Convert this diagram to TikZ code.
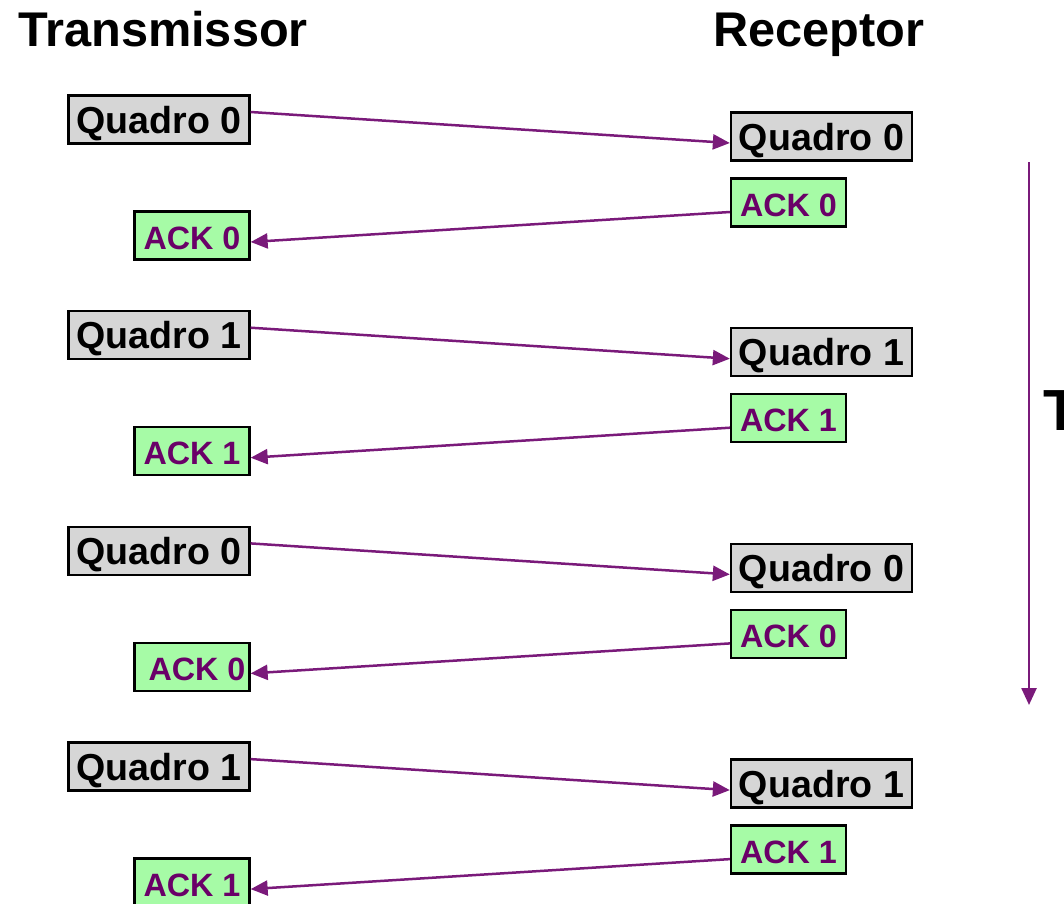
\documentclass[tikz,border=0pt]{standalone}
\usepackage{fontspec}
\setmainfont{Liberation Sans}
\usetikzlibrary{arrows.meta}
\definecolor{boxgray}{HTML}{D6D6D6}
\definecolor{ackgreen}{HTML}{A6FBA6}
\definecolor{ackpurple}{HTML}{6A0068}
\definecolor{arrowpurple}{HTML}{7A1A7A}
\begin{document}
\begin{tikzpicture}[x=1pt,y=-1pt,
  framebox/.style={draw=black, line width=2.3pt, inner sep=0pt, text height=37.5pt, text depth=10.5pt},
  quadro/.style={framebox, fill=boxgray, minimum width=181pt, font=\bfseries\fontsize{37.6}{40}\selectfont},
  ackbox/.style={framebox, fill=ackgreen, text=ackpurple, minimum width=115pt, font=\bfseries\fontsize{32.3}{34}\selectfont},
  msg/.style={draw=arrowpurple, line width=2.5pt, -{Triangle[length=17pt,width=15pt]}},
  title/.style={font=\bfseries\fontsize{48.7}{50}\selectfont, anchor=base west, inner sep=0pt}]
\useasboundingbox (0,0) rectangle (1064,903);
\clip (0,0) rectangle (1064,903);

\node[title] (tx) at (18,46.5) {Transmissor};
\node[title] (rx) at (713,46.5) {Receptor};
\node[title, font=\bfseries\fontsize{58}{60}\selectfont] (tm) at (1043,430) {T};

% left quadros
\node[quadro] (lq0) at (159,119.5) {Quadro 0};
\node[quadro] (lq1) at (159,335.2) {Quadro 1};
\node[quadro] (lq2) at (159,550.9) {Quadro 0};
\node[quadro] (lq3) at (159,766.6) {Quadro 1};
% left acks
\node[ackbox] (la0) at (192,235.5) {ACK 0};
\node[ackbox] (la1) at (192,451.2) {ACK 1};
\node[ackbox] (la2) at (192,666.9) {\hspace{10pt}ACK 0};
\node[ackbox] (la3) at (192,882.6) {ACK 1};
% right quadros
\node[quadro] (rq0) at (821.5,136.5) {Quadro 0};
\node[quadro] (rq1) at (821.5,352.2) {Quadro 1};
\node[quadro] (rq2) at (821.5,567.9) {Quadro 0};
\node[quadro] (rq3) at (821.5,783.6) {Quadro 1};
% right acks
\node[ackbox] (ra0) at (788.5,202.5) {ACK 0};
\node[ackbox] (ra1) at (788.5,418.2) {ACK 1};
\node[ackbox] (ra2) at (788.5,633.9) {ACK 0};
\node[ackbox] (ra3) at (788.5,849.6) {ACK 1};

\foreach \i in {0,1,2,3}{
  \draw[msg] ([yshift=7.5pt]lq\i.east) -- ([yshift=-6.5pt]rq\i.west);
  \draw[msg] ([yshift=-9.5pt]ra\i.west) -- ([yshift=-6.5pt]la\i.east);
}

\coordinate (t0) at (1029,162);
\coordinate (t1) at (1029,705);
\draw[msg] (t0) -- (t1);
\end{tikzpicture}
\end{document}
